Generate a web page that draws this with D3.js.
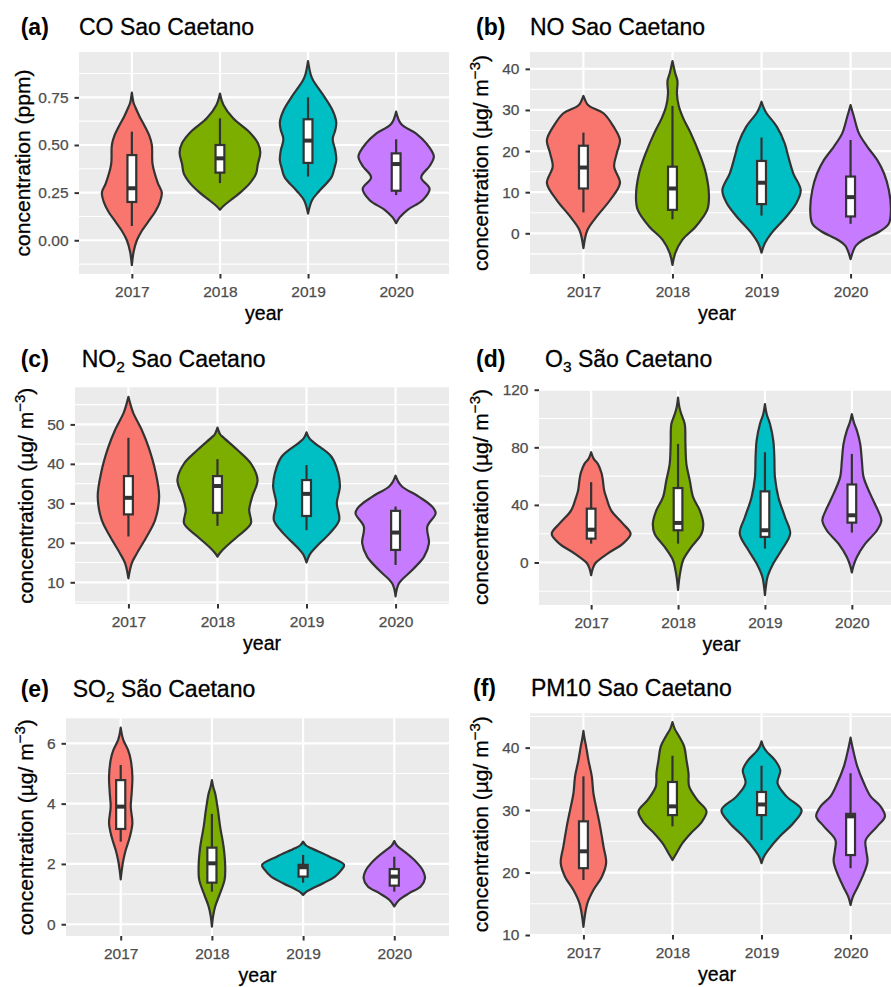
<!DOCTYPE html>
<html>
<head>
<meta charset="utf-8">
<script src="https://cdnjs.cloudflare.com/ajax/libs/d3/7.8.5/d3.min.js"></script>
<style>
  body { margin: 0; background: #fff; }
  svg { display: block; font-family: "Liberation Sans", Arial, sans-serif; }
</style>
</head>
<body>
<svg width="891" height="987"></svg>
<script>
// ---- data ----
var years = ["2017", "2018", "2019", "2020"];
var fills = ["#F8766D", "#7CAE00", "#00BFC4", "#C77CFF"];

// violin outlines: [value, half width in category units]
var coDensity = [
  [[0.775,0],[0.72,0.02],[0.7,0.038],[0.65,0.087],[0.6,0.145],[0.55,0.197],[0.5,0.227],[0.4,0.235],[0.3,0.295],[0.25,0.34],[0.2,0.318],[0.15,0.265],[0.1,0.19],[0.05,0.114],[0.0,0.057],[-0.06,0.02],[-0.13,0]],
  [[0.77,0],[0.71,0.04],[0.64,0.15],[0.57,0.33],[0.51,0.43],[0.46,0.458],[0.40,0.43],[0.35,0.41],[0.30,0.34],[0.25,0.23],[0.21,0.12],[0.18,0.04],[0.16,0]],
  [[0.94,0],[0.87,0.03],[0.84,0.057],[0.75,0.19],[0.68,0.28],[0.62,0.32],[0.58,0.31],[0.53,0.28],[0.47,0.31],[0.42,0.32],[0.38,0.30],[0.33,0.265],[0.26,0.13],[0.21,0.045],[0.14,0]],
  [[0.675,0],[0.61,0.057],[0.56,0.227],[0.51,0.34],[0.44,0.428],[0.39,0.38],[0.33,0.284],[0.27,0.38],[0.21,0.30],[0.16,0.13],[0.12,0.04],[0.09,0]]
];
var noDensity = [
  [[33.4,0],[31.5,0.04],[30.8,0.075],[29.2,0.225],[26,0.337],[22.7,0.41],[19.5,0.375],[16.2,0.345],[12.2,0.41],[8.1,0.3],[4.1,0.15],[0.8,0.045],[-3.6,0]],
  [[41.9,0],[39,0.03],[37,0.056],[34,0.05],[31,0.07],[28,0.12],[24.3,0.206],[19.5,0.3],[14.6,0.375],[8.9,0.41],[5.7,0.39],[1.6,0.26],[-1.6,0.11],[-4.9,0.03],[-7.7,0]],
  [[32,0],[30.5,0.025],[29.2,0.056],[26,0.17],[21.9,0.26],[18.7,0.3],[14.6,0.356],[10.5,0.44],[7.3,0.39],[4.1,0.28],[0,0.11],[-2.4,0.037],[-4.7,0]],
  [[31.2,0],[28.4,0.037],[24.3,0.094],[21.1,0.187],[17.8,0.3],[14.6,0.375],[10.5,0.43],[5.7,0.453],[2.4,0.43],[0.5,0.33],[-1.5,0.15],[-3,0.06],[-6.3,0]]
];
var no2Density = [
  [[57,0],[54.5,0.03],[52.8,0.056],[48.6,0.15],[44.3,0.225],[38.4,0.3],[31.7,0.345],[25.8,0.3],[21.6,0.206],[17.3,0.094],[14.8,0.037],[11,0]],
  [[49.2,0],[47.5,0.03],[46.9,0.056],[43.5,0.225],[40.1,0.375],[35.9,0.45],[31.7,0.39],[28.3,0.356],[24.9,0.375],[21.6,0.225],[19,0.094],[17.5,0.03],[16.5,0]],
  [[48,0],[46.5,0.03],[45.2,0.094],[41.8,0.28],[37.6,0.356],[34.2,0.375],[30,0.34],[25.8,0.367],[22.4,0.26],[19,0.11],[17,0.035],[15,0]],
  [[37,0],[35.5,0.03],[34.2,0.075],[31.7,0.26],[29.2,0.41],[27.5,0.45],[24.1,0.356],[19.9,0.375],[16.5,0.32],[13.1,0.187],[9.7,0.037],[6.4,0]]
];
var o3Density = [
  [[76.6,0],[72,0.03],[68.5,0.077],[62,0.12],[57,0.135],[50,0.15],[45.4,0.173],[36.2,0.23],[27,0.365],[20,0.454],[13.1,0.365],[6.2,0.19],[-0.7,0.046],[-5,0.015],[-8.8,0]],
  [[114.6,0],[108,0.015],[103,0.038],[96.2,0.077],[82.4,0.085],[68.5,0.096],[57,0.135],[45.4,0.173],[36.2,0.25],[27,0.29],[20,0.27],[10.8,0.154],[1.6,0.058],[-5.3,0.03],[-12,0.012],[-19,0]],
  [[110,0],[103,0.02],[96.2,0.058],[84.7,0.096],[73.1,0.108],[59.3,0.115],[45.4,0.154],[31.6,0.23],[20,0.29],[8.5,0.19],[-0.7,0.096],[-9.9,0.03],[-16,0.012],[-22.6,0]],
  [[103,0],[97,0.025],[91.6,0.058],[82.4,0.096],[70.8,0.115],[59.3,0.135],[47.8,0.21],[36.2,0.3],[29.3,0.34],[22.4,0.29],[13.1,0.154],[3.9,0.058],[-2,0.02],[-6.9,0]]
];
var so2Density = [
  [[6.52,0],[6.3,0.012],[6.11,0.029],[5.78,0.08],[5.45,0.11],[4.9,0.128],[4.34,0.12],[3.9,0.11],[3.35,0.128],[2.9,0.1],[2.46,0.055],[2.13,0.029],[1.8,0.012],[1.49,0]],
  [[4.78,0],[4.55,0.015],[4.34,0.036],[3.79,0.066],[3.24,0.09],[2.57,0.128],[1.91,0.146],[1.47,0.139],[1.03,0.09],[0.59,0.036],[0.25,0.012],[-0.08,0]],
  [[2.74,0],[2.62,0.03],[2.52,0.09],[2.24,0.29],[1.97,0.45],[1.8,0.42],[1.58,0.35],[1.36,0.22],[1.14,0.073],[1.05,0.025],[0.97,0]],
  [[2.76,0],[2.6,0.03],[2.46,0.09],[2.13,0.22],[1.8,0.31],[1.52,0.336],[1.25,0.29],[1.03,0.164],[0.81,0.055],[0.59,0]]
];
var pm10Density = [
  [[42.7,0],[41.5,0.012],[40.2,0.03],[38,0.056],[35.4,0.094],[32.7,0.112],[30,0.15],[27.4,0.187],[24.2,0.225],[21.5,0.255],[19.3,0.206],[17.2,0.112],[15.1,0.045],[13,0.015],[11.3,0]],
  [[44.1,0],[43,0.025],[41.8,0.075],[40.2,0.131],[38,0.157],[35.9,0.18],[33.8,0.187],[31.6,0.28],[29.8,0.382],[27.9,0.318],[26.3,0.206],[24.7,0.112],[23.1,0.045],[22,0]],
  [[41,0],[40.2,0.02],[39.4,0.056],[38,0.15],[36.4,0.21],[34.3,0.18],[32.2,0.28],[30,0.45],[27.9,0.356],[25.8,0.206],[23.6,0.075],[22.5,0.025],[21.5,0]],
  [[41.6,0],[40.5,0.015],[39.1,0.037],[37,0.075],[34.3,0.15],[32.2,0.225],[30.6,0.337],[29,0.386],[27.4,0.3],[25.2,0.17],[23.6,0.175],[21.8,0.19],[19.9,0.15],[17.7,0.08],[16.1,0.025],[14.8,0]]
];

// boxplots: [lower whisker, q1, median, q3, upper whisker]
var coBoxes   = [[0.075,0.201,0.273,0.447,0.57],[0.30,0.355,0.43,0.50,0.64],[0.334,0.406,0.523,0.635,0.75],[0.237,0.26,0.40,0.456,0.53]];
var noBoxes   = [[5.1,10.9,16,21.3,24.5],[3.4,5.7,10.9,16.2,31],[4.3,7.1,12.3,17.6,23.3],[2.3,4.1,8.8,13.8,22.7]];
var no2Boxes  = [[21.6,27.2,31.4,36.9,46.6],[24.3,27.6,34.4,36.9,41.2],[23.2,26.8,32.4,35.9,39.7],[14.4,18.2,22.6,28.1,29.2]];
var o3Boxes   = [[13.1,16.6,22.8,37.4,55.8],[13.1,22.4,27.5,51.7,82.4],[9.7,17.8,22.4,49.4,76.6],[20.8,27.7,32.8,54.2,75.4]];
var so2Boxes  = [[2.74,3.16,3.9,4.78,5.28],[1.08,1.38,2.02,2.54,3.66],[1.38,1.58,1.89,1.97,2.3],[1.08,1.28,1.58,1.83,2.24]];
var pm10Boxes = [[18.8,20.7,23.4,28.2,35.4],[27.4,29.2,30.6,34.5,38.7],[25.2,29.2,30.9,32.9,37.1],[20.7,22.8,29.0,29.4,35.9]];

// y axes
var coTicks = [0, 0.25, 0.5, 0.75],   coRange = [-0.177, 0.988];
var noTicks = [0, 10, 20, 30, 40],    noRange = [-9.9, 44.1];
var no2Ticks = [10, 20, 30, 40, 50],  no2Range = [4.5, 59.4];
var o3Ticks = [0, 40, 80, 120],       o3Range = [-29.5, 120.5];
var so2Ticks = [0, 2, 4, 6],          so2Range = [-0.39, 6.83];
var pm10Ticks = [10, 20, 30, 40],     pm10Range = [10, 45.5];

var tags = ["(a)", "(b)", "(c)", "(d)", "(e)", "(f)"];
var titles = [
  [["CO Sao Caetano", 0]],
  [["NO Sao Caetano", 0]],
  [["NO", 0], ["2", 1], [" Sao Caetano", 0]],
  [["O", 0], ["3", 1], [" São Caetano", 0]],
  [["SO", 0], ["2", 1], [" São Caetano", 0]],
  [["PM10 Sao Caetano", 0]]
];

// ---- layout ----
var layout = [
  {l: 79,  r: 449, t: 52,    b: 274, tagX: 20.7, titleX: 79,   titleY: 35,    yTitleX: 29.5},
  {l: 530, r: 904, t: 52,    b: 274, tagX: 476,  titleX: 530,  titleY: 35,    yTitleX: 488},
  {l: 75,  r: 449, t: 387.3, b: 604, tagX: 20.7, titleX: 81.7, titleY: 366.7, yTitleX: 33.3},
  {l: 539, r: 904, t: 389,   b: 605, tagX: 476,  titleX: 545,  titleY: 366.7, yTitleX: 488},
  {l: 66,  r: 449, t: 718.3, b: 936, tagX: 20.7, titleX: 72.7, titleY: 696.7, yTitleX: 33.3},
  {l: 530, r: 904, t: 713.3, b: 935, tagX: 473,  titleX: 531,  titleY: 696,   yTitleX: 488}
];

var panels = [
  {dens: coDensity,   box: coBoxes,   ticks: coTicks,   range: coRange,   fmt: d3.format(".2f"), ppm: true},
  {dens: noDensity,   box: noBoxes,   ticks: noTicks,   range: noRange,   fmt: d3.format("d")},
  {dens: no2Density,  box: no2Boxes,  ticks: no2Ticks,  range: no2Range,  fmt: d3.format("d")},
  {dens: o3Density,   box: o3Boxes,   ticks: o3Ticks,   range: o3Range,   fmt: d3.format("d")},
  {dens: so2Density,  box: so2Boxes,  ticks: so2Ticks,  range: so2Range,  fmt: d3.format("d")},
  {dens: pm10Density, box: pm10Boxes, ticks: pm10Ticks, range: pm10Range, fmt: d3.format("d")}
];

var svg = d3.select("svg");
var ink = "#333333";

panels.forEach(function(p, k) {
  var L = layout[k];
  var g = svg.append("g");
  var x = d3.scalePoint().domain(years).range([L.l, L.r]).padding(0.6);
  var step = x.step();
  var y = d3.scaleLinear().domain(p.range).range([L.b, L.t]);

  g.append("rect").attr("x", L.l).attr("y", L.t)
    .attr("width", L.r - L.l).attr("height", L.b - L.t).attr("fill", "#EBEBEB");

  // minor + major grid
  var d = p.ticks[1] - p.ticks[0];
  var minor = [];
  for (var v = p.ticks[0] - d / 2; v <= p.range[1]; v += d) {
    if (v >= p.range[0]) minor.push(v);
  }
  g.selectAll(".minor").data(minor).enter().append("line")
    .attr("x1", L.l).attr("x2", L.r)
    .attr("y1", function(v) { return y(v); }).attr("y2", function(v) { return y(v); })
    .attr("stroke", "#fff").attr("stroke-width", 1.1);
  g.selectAll(".major").data(p.ticks.filter(function(v) { return v >= p.range[0] && v <= p.range[1]; }))
    .enter().append("line")
    .attr("x1", L.l).attr("x2", L.r)
    .attr("y1", function(v) { return y(v); }).attr("y2", function(v) { return y(v); })
    .attr("stroke", "#fff").attr("stroke-width", 2.2);
  g.selectAll(".vgrid").data(years).enter().append("line")
    .attr("x1", function(c) { return x(c); }).attr("x2", function(c) { return x(c); })
    .attr("y1", L.t).attr("y2", L.b)
    .attr("stroke", "#fff").attr("stroke-width", 2.2);

  // violins with inner boxplots
  years.forEach(function(c, i) {
    var cx = x(c);
    var area = d3.area()
      .curve(d3.curveCatmullRom.alpha(0.5))
      .y(function(q) { return y(q[0]); })
      .x0(function(q) { return cx - q[1] * step; })
      .x1(function(q) { return cx + q[1] * step; });
    g.append("path").datum(p.dens[i])
      .attr("d", area)
      .attr("fill", fills[i])
      .attr("stroke", ink).attr("stroke-width", 2.2)
      .attr("stroke-linejoin", "round");

    var b = p.box[i], hw = 0.05 * step;
    g.append("line").attr("x1", cx).attr("x2", cx)
      .attr("y1", y(b[0])).attr("y2", y(b[4]))
      .attr("stroke", ink).attr("stroke-width", 2.2);
    g.append("rect").attr("x", cx - hw).attr("width", 2 * hw)
      .attr("y", y(b[3])).attr("height", y(b[1]) - y(b[3]))
      .attr("fill", "#fff").attr("stroke", ink).attr("stroke-width", 2.2);
    g.append("line").attr("x1", cx - hw).attr("x2", cx + hw)
      .attr("y1", y(b[2])).attr("y2", y(b[2]))
      .attr("stroke", ink).attr("stroke-width", 4);
  });

  // axes
  var ya = g.append("g").attr("transform", "translate(" + L.l + ",0)")
    .call(d3.axisLeft(y).tickValues(p.ticks).tickFormat(p.fmt).tickSize(4.5).tickPadding(6));
  var xa = g.append("g").attr("transform", "translate(0," + L.b + ")")
    .call(d3.axisBottom(x).tickSize(4.5).tickPadding(7));
  [ya, xa].forEach(function(a) {
    a.select(".domain").remove();
    a.selectAll(".tick line").attr("stroke", ink).attr("stroke-width", 2);
    a.selectAll(".tick text").attr("fill", "#4D4D4D")
      .attr("stroke", "#4D4D4D").attr("stroke-width", 0.25)
      .style("font-size", "15.5px").style("font-family", "'Liberation Sans', Arial, sans-serif");
  });

  // axis titles
  g.append("text").attr("x", (L.l + L.r) / 2).attr("y", L.b + 46)
    .attr("text-anchor", "middle").style("font-size", "19.5px")
    .attr("fill", "#000").attr("stroke", "#000").attr("stroke-width", 0.3)
    .text("year");
  var yt = g.append("text")
    .attr("transform", "translate(" + L.yTitleX + "," + ((L.t + L.b) / 2) + ") rotate(-90)")
    .attr("text-anchor", "middle").style("font-size", "21px")
    .attr("fill", "#000").attr("stroke", "#000").attr("stroke-width", 0.3);
  if (p.ppm) {
    yt.text("concentration (ppm)");
  } else {
    yt.append("tspan").text("concentration (µg/ m");
    yt.append("tspan").attr("dy", -8).style("font-size", "15px").text("\u22123");
    yt.append("tspan").attr("dy", 8).text(")");
  }

  // titles
  g.append("text").attr("x", L.tagX).attr("y", L.titleY)
    .style("font-size", "23px").style("font-weight", "bold").text(tags[k]);
  var tt = g.append("text").attr("x", L.titleX).attr("y", L.titleY)
    .style("font-size", "23px").attr("stroke", "#000").attr("stroke-width", 0.3);
  var shifted = 0;
  titles[k].forEach(function(s) {
    var sp = tt.append("tspan").text(s[0]);
    if (s[1]) { sp.attr("dy", 5).style("font-size", "15.5px"); shifted = 5; }
    else if (shifted) { sp.attr("dy", -shifted); shifted = 0; }
  });
});
</script>
</body>
</html>
